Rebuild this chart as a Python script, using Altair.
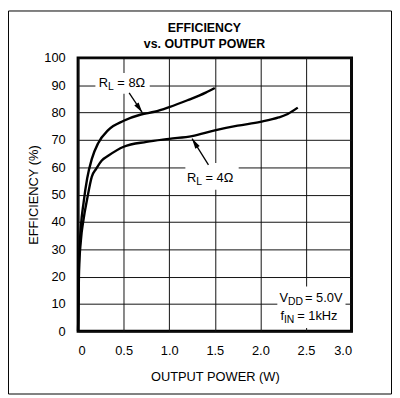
import altair as alt
import pandas as pd

# ---- data ----
p_8ohm = [0.0, 0.01, 0.03, 0.06, 0.10, 0.15, 0.22, 0.33, 0.50, 0.69, 0.84, 1.00, 1.20, 1.40, 1.50]
e_8ohm = [0.0, 25.0, 38.0, 47.0, 56.0, 63.0, 68.8, 73.6, 77.0, 79.3, 80.3, 82.0, 84.5, 87.3, 89.0]

p_4ohm = [0.0, 0.01, 0.03, 0.06, 0.10, 0.15, 0.20, 0.26, 0.33, 0.50, 0.75, 1.00, 1.25, 1.50, 1.75, 2.00, 2.20, 2.30, 2.41]
e_4ohm = [0.0, 22.0, 33.0, 41.0, 48.5, 56.5, 59.5, 62.5, 64.2, 67.5, 69.3, 70.4, 71.4, 73.5, 75.2, 76.6, 78.2, 79.5, 81.8]

x_ticks = [0, 0.5, 1.0, 1.5, 2.0, 2.5, 3.0]
y_ticks = [0, 10, 20, 30, 40, 50, 60, 70, 80, 90, 100]

title_line1 = ["EFFICIENCY"]
title_line2 = ["vs. OUTPUT POWER"]

curves = pd.concat([
    pd.DataFrame({"p": p_8ohm, "e": e_8ohm, "s": "8"}),
    pd.DataFrame({"p": p_4ohm, "e": e_4ohm, "s": "4"}),
])

# annotation text pieces (data coordinates)
main_txt = pd.DataFrame({
    "x": [0.227, 0.431, 1.195, 1.398, 2.209, 2.49, 2.22, 2.404],
    "y": [89.2, 89.2, 54.6, 54.6, 10.8, 10.8, 4.3, 4.3],
    "t": ["R", "= 8\u03a9", "R", "= 4\u03a9", "V", "= 5.0V", "f", "= 1kHz"],
})
sub_txt = pd.DataFrame({
    "x": [0.329, 1.296, 2.304, 2.259],
    "y": [89.2, 54.6, 10.8, 4.3],
    "t": ["L", "L", "DD", "IN"],
})
boxes = pd.DataFrame({
    "x": [0.19, 1.177, 2.186], "x2": [0.786, 1.762, 2.934],
    "y": [94.5, 61.6, 16.4], "y2": [86.9, 51.8, 1.2],
})
arrows = pd.DataFrame({
    "x": [0.56, 1.43], "y": [87.2, 60.9],
    "x2": [0.704, 1.25], "y2": [80.0, 70.5],
    "ang": [146, 328],
})

FONT = "Liberation Sans"

xs = alt.Scale(domain=[0, 3], nice=False)
ys = alt.Scale(domain=[0, 100], nice=False)

x_axis = alt.Axis(values=x_ticks,
                  labelExpr="datum.value == 0 ? '0' : format(datum.value, '.1f')",
                  title="OUTPUT POWER (W)", titleFont=FONT, titleFontSize=13,
                  titleFontWeight="normal", titlePadding=14,
                  labelFont=FONT, labelFontSize=13, labelPadding=13, labelOverlap=False,
                  ticks=False, domain=False, grid=True)
y_axis = alt.Axis(values=y_ticks, title="EFFICIENCY (%)", titleFont=FONT,
                  titleFontSize=13, titleFontWeight="normal", titlePadding=3,
                  labelFont=FONT, labelFontSize=13, labelPadding=13, labelOverlap=False,
                  ticks=False, domain=False, grid=True)


def X(field):
    return alt.X(field, scale=xs, axis=x_axis)


def Y(field):
    return alt.Y(field, scale=ys, axis=y_axis)


lines = alt.Chart(curves).mark_line(color="black", strokeWidth=2.4, interpolate="monotone").encode(
    x=X("p:Q"), y=Y("e:Q"), detail="s:N")

box_layer = alt.Chart(boxes).mark_rect(fill="white").encode(
    x=X("x:Q"), x2="x2:Q", y=Y("y:Q"), y2="y2:Q")

shaft = alt.Chart(arrows).mark_rule(color="black", strokeWidth=1.3).encode(
    x=X("x:Q"), x2="x2:Q", y=Y("y:Q"), y2="y2:Q")

head = alt.Chart(arrows).mark_point(shape="M0,0 L-0.5,2 L0.5,2 Z", filled=True, color="black",
                                    size=110, opacity=1).encode(
    x=X("x2:Q"), y=Y("y2:Q"), angle=alt.Angle("ang:Q", scale=None))

txt_main = alt.Chart(main_txt).mark_text(font=FONT, fontSize=13, align="left",
                                         baseline="alphabetic", color="black").encode(
    x=X("x:Q"), y=Y("y:Q"), text="t:N")
txt_sub = alt.Chart(sub_txt).mark_text(font=FONT, fontSize=10.5, align="left",
                                       baseline="alphabetic", dy=3, color="black").encode(
    x=X("x:Q"), y=Y("y:Q"), text="t:N")

title1 = alt.Chart(pd.DataFrame({"t": title_line1})).mark_text(
    font=FONT, fontSize=12.5, fontWeight="bold", align="center", baseline="middle", color="black"
).encode(text="t:N", x=alt.value(128), y=alt.value(-30))
title2 = alt.Chart(pd.DataFrame({"t": title_line2})).mark_text(
    font=FONT, fontSize=12.5, fontWeight="bold", align="center", baseline="middle", color="black"
).encode(text="t:N", x=alt.value(128), y=alt.value(-14))

border = alt.Chart(pd.DataFrame({"k": [0]})).mark_rect(fillOpacity=0, stroke="black", strokeWidth=1).encode(
    x=alt.value(-70.5), x2=alt.value(317.5), y=alt.value(-47.5), y2=alt.value(340.5))

chart = alt.layer(lines, box_layer, shaft, head, txt_main, txt_sub, title1, title2, border).properties(
    width=277, height=277,
    background="white",
    autosize=alt.AutoSizeParams(type="none"),
    padding={"left": 71, "top": 48, "right": 41, "bottom": 64},
).configure_view(stroke="black", strokeWidth=3).configure_axis(
    gridColor="#111", gridWidth=1, gridOpacity=1, labelColor="black", titleColor="black"
)

chart.save("out.html", embed_options={"renderer": "svg", "actions": False})
